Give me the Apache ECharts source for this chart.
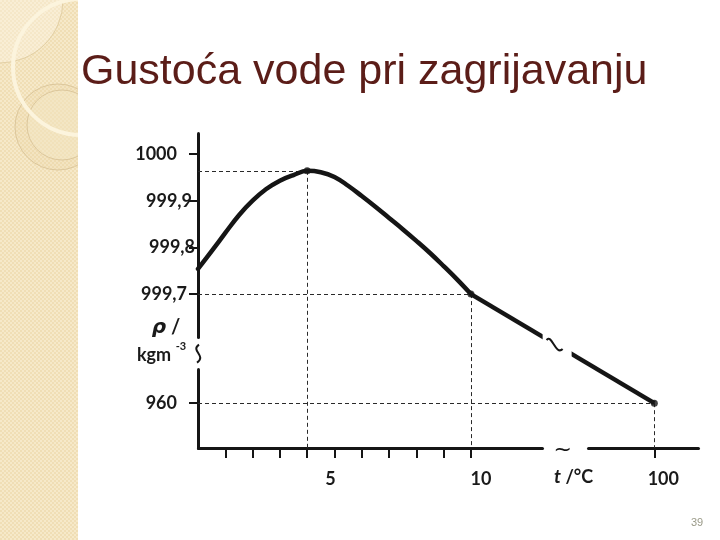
<!DOCTYPE html>
<html><head><meta charset="utf-8">
<script src="https://cdn.jsdelivr.net/npm/echarts@6/dist/echarts.min.js"></script>
<style>html,body{margin:0;padding:0;background:#fff}#c{width:720px;height:540px}</style>
</head><body><div id="c"></div>
<script>
// ---- data ----
const titleText = 'Gustoća vode pri zagrijavanju';
const pageNumber = '39';
const curveT   = [0, 0.5, 1, 1.5, 2, 2.5, 3, 3.5, 4, 4.5, 5, 5.5, 6, 6.5, 7, 7.5, 8, 8.5, 9, 9.5, 10];
const curveRho = [999.754, 999.792, 999.831, 999.869, 999.900, 999.925, 999.943, 999.955, 999.964, 999.961, 999.951,
                  999.932, 999.910, 999.887, 999.863, 999.839, 999.814, 999.788, 999.760, 999.731, 999.700];
const highT    = [10, 100];
const highRho  = [999.700, 960];
const markedT   = [4, 10, 100];
const markedRho = [999.964, 999.700, 960];
const yTickValues  = [960, 999.7, 999.8, 999.9, 1000];
const xTickValues  = [1, 2, 3, 4, 5, 6, 7, 8, 9, 10, 100];
const xLabelValues = [5, 10, 100];
const xNameText = ['t', ' /°C'];
const yNameText = ['ρ', ' /', 'kgm', '-3'];

// axis ranges and breaks
const xMin = 0, xMax = 101.6;
const yMin = 959.904, yMax = 1000.045;
const xBreak = { start: 12.605, end: 97.571, gap: 1.6856 };
const yBreak = { start: 960.0732, end: 999.6081, gap: 0.0685 };

const chart = echarts.init(document.getElementById('c'), null, { renderer: 'canvas' });
const ink = '#151515';
const labelFont = 'Lato';

const curveData = curveT.map((t, i) => [t, curveRho[i]]);
const highData = highT.map((t, i) => [t, highRho[i]]);
const markedData = markedT.map((t, i) => [t, markedRho[i]]);
const guideLines = [];
markedData.forEach(p => {
  guideLines.push([{ coord: [xMin, p[1]] }, { coord: [p[0], p[1]] }]);
  guideLines.push([{ coord: [p[0], p[1]] }, { coord: [p[0], yMin] }]);
});

// label nudges (style only), keyed by tick value
const yLabelPad = { '960': 18, '999.7': 8, '999.8': 0, '999.9': 3, '1000': 18 };
const xLabelPad = { '5': [0, 8, 0, 0], '10': [0, 0, 0, 20], '100': [0, 0, 0, 18] };

function yLabel(v) {
  const key = String(Math.round(v * 10) / 10);
  const s = Math.abs(v - 1000) < 1e-6 ? '1000' : (Math.abs(v - 960) < 1e-6 ? '960' : v.toFixed(1).replace('.', ','));
  const pad = yLabelPad[key] || 0;
  return '{p' + pad + '|' + s + '}';
}
const yRich = {};
Object.values(yLabelPad).forEach(p => { yRich['p' + p] = { padding: [0, p, 0, 0] }; });
function xLabel(v) { return '{x' + v + '|' + v + '}'; }
const xRich = {};
Object.keys(xLabelPad).forEach(k => { xRich['x' + k] = { padding: xLabelPad[k] }; });

chart.setOption({
  animation: false,
  backgroundColor: '#ffffff',
  grid: { left: 198, right: 22, top: 133, bottom: 92, containLabel: false },
  xAxis: {
    type: 'value', min: xMin, max: xMax,
    breaks: [xBreak],
    breakArea: { show: true, expandOnClick: false, itemStyle: { color: 'rgba(0,0,0,0)', borderColor: 'rgba(0,0,0,0)', opacity: 0 } },
    axisLine: { show: true, onZero: false, lineStyle: { color: ink, width: 3 } },
    axisTick: { show: true, customValues: xTickValues, length: 10, lineStyle: { color: ink, width: 2 } },
    axisLabel: { show: true, customValues: xLabelValues, margin: 22, color: '#1a1a1a',
      fontFamily: labelFont, fontWeight: 'bold', fontSize: 18,
      formatter: xLabel, rich: xRich },
    splitLine: { show: false }
  },
  yAxis: {
    type: 'value', min: yMin, max: yMax,
    breaks: [yBreak],
    breakArea: { show: true, expandOnClick: false, itemStyle: { color: 'rgba(0,0,0,0)', borderColor: 'rgba(0,0,0,0)', opacity: 0 } },
    axisLine: { show: true, onZero: false, lineStyle: { color: ink, width: 3 } },
    axisTick: { show: true, customValues: yTickValues, length: 9, lineStyle: { color: ink, width: 2 } },
    axisLabel: { show: true, customValues: yTickValues, margin: 3, color: '#1a1a1a',
      fontFamily: labelFont, fontWeight: 'bold', fontSize: 18,
      formatter: yLabel, rich: yRich },
    splitLine: { show: false }
  },
  series: [
    { type: 'line', data: curveData, smooth: 0.4, symbol: 'none', silent: true,
      lineStyle: { color: ink, width: 4.5, cap: 'round', join: 'round' }, z: 5 },
    { type: 'line', data: highData, symbol: 'none', silent: true,
      lineStyle: { color: ink, width: 4.5 }, z: 5 },
    { type: 'scatter', data: markedData, symbol: 'circle', symbolSize: 7, silent: true,
      itemStyle: { color: ink }, z: 6,
      markLine: { silent: true, symbol: 'none', label: { show: false },
        lineStyle: { color: '#2a2a2a', width: 1, type: [4, 3] }, data: guideLines, z: 3 } }
  ]
});

// ---- decorations and annotations positioned through the chart's scales ----
const px = (x, y) => chart.convertToPixel({ gridIndex: 0 }, [x, y]);
const xBreakMid = (px(highT[0], yMin)[0] + px(highT[1], yMin)[0]) / 2;
const yBreakMid = (px(xMin, yTickValues[0])[1] + px(xMin, yTickValues[1])[1]) / 2;
const axisY = px(xMin, yMin)[1];
const axisX = px(xMin, yMin)[0];
const p10 = px(highT[0], highRho[0]), p100 = px(highT[1], highRho[1]);
const lineMidX = xBreakMid - 6;
const lineMidY = p10[1] + (p100[1] - p10[1]) * (lineMidX - p10[0]) / (p100[0] - p10[0]);
const yb = yBreakMid + 5;
const lx = lineMidX - 2, ly = lineMidY;

// checker texture for the side strip
const pat = document.createElement('canvas');
pat.width = 4; pat.height = 4;
const pc = pat.getContext('2d');
pc.fillStyle = '#f0deb5'; pc.fillRect(0, 0, 4, 4);
pc.fillStyle = '#f6e9c9'; pc.fillRect(0, 0, 2, 2); pc.fillRect(2, 2, 2, 2);

chart.setOption({
  graphic: [
    { type: 'rect', shape: { x: 0, y: 0, width: 78, height: 540 }, style: { fill: { image: pat, repeat: 'repeat' } }, z: 0, silent: true },
    { type: 'circle', shape: { cx: 0, cy: 0, r: 63 }, style: { fill: 'rgba(255,250,235,0.35)', stroke: '#e2cfa4', lineWidth: 1 }, z: 1, silent: true },
    { type: 'circle', shape: { cx: 58, cy: 127, r: 43 }, style: { fill: 'rgba(225,200,150,0.15)', stroke: '#dcc79c', lineWidth: 1 }, z: 1, silent: true },
    { type: 'circle', shape: { cx: 62, cy: 125, r: 35 }, style: { fill: 'rgba(245,232,200,0.45)', stroke: '#dcc79c', lineWidth: 1 }, z: 1, silent: true },
    { type: 'circle', shape: { cx: 81, cy: 67, r: 68 }, style: { fill: 'none', stroke: '#fcf4dd', lineWidth: 4 }, z: 2, silent: true },
    { type: 'rect', shape: { x: 78, y: 0, width: 80, height: 140 }, style: { fill: '#ffffff' }, z: 3, silent: true },
    { type: 'rect', shape: { x: 78, y: 140, width: 50, height: 60 }, style: { fill: '#ffffff' }, z: 3, silent: true },
    { type: 'text', x: 81, y: 72, z: 10, silent: true,
      style: { text: titleText, fill: '#5b1d18', font: '43px "Liberation Sans", Arial, sans-serif', verticalAlign: 'middle', align: 'left',
        shadowColor: 'rgba(0,0,0,0.25)', shadowBlur: 2, shadowOffsetX: 2, shadowOffsetY: 2 } },
    { type: 'text', x: 697, y: 523, z: 10, silent: true,
      style: { text: pageNumber, fill: '#9a9a88', font: '11px "Liberation Sans", Arial, sans-serif', align: 'center', verticalAlign: 'middle' } },
    // axis break marks and the gap in the line
    { type: 'bezierCurve', z: 21, silent: true,
      shape: { x1: axisX + 1, y1: yb - 9, cpx1: axisX - 8, cpy1: yb - 3, cpx2: axisX + 9, cpy2: yb + 2, x2: axisX - 1, y2: yb + 9 },
      style: { stroke: ink, lineWidth: 2, fill: 'none' } },
    { type: 'text', x: xBreakMid, y: axisY + 2, z: 21, silent: true,
      style: { text: '~', fill: ink, font: '22px "DejaVu Sans", sans-serif', align: 'center', verticalAlign: 'middle' } },
    { type: 'rect', shape: { x: lineMidX - 14, y: lineMidY - 13, width: 29, height: 26 }, style: { fill: '#ffffff' }, z: 20, silent: true },
    { type: 'bezierCurve', z: 21, silent: true,
      shape: { x1: lx - 8, y1: ly - 5, cpx1: lx - 3, cpy1: ly - 12, cpx2: lx + 1, cpy2: ly + 11, x2: lx + 8, y2: ly + 4 },
      style: { stroke: ink, lineWidth: 2, fill: 'none' } },
    // axis names
    { type: 'text', x: xBreakMid + 11, y: axisY + 29, z: 21, silent: true,
      style: { text: '{i|' + xNameText[0] + '}{n|' + xNameText[1] + '}', align: 'center', verticalAlign: 'middle',
        rich: { i: { font: 'italic bold 19px Lato, sans-serif', fill: '#1a1a1a' }, n: { font: 'bold 18px Lato, sans-serif', fill: '#1a1a1a' } } } },
    { type: 'text', x: 166, y: yBreakMid - 21, z: 21, silent: true,
      style: { text: '{i|' + yNameText[0] + '}{n|' + yNameText[1] + '}', align: 'center', verticalAlign: 'middle',
        rich: { i: { font: 'italic bold 20px "DejaVu Sans", sans-serif', fill: '#1a1a1a' }, n: { font: 'bold 20px Lato, sans-serif', fill: '#1a1a1a' } } } },
    { type: 'text', x: 154, y: yBreakMid + 7, z: 21, silent: true,
      style: { text: yNameText[2], fill: '#1a1a1a', font: 'bold 18px Lato, sans-serif', align: 'center', verticalAlign: 'middle' } },
    { type: 'text', x: 181, y: yBreakMid - 2, z: 21, silent: true,
      style: { text: yNameText[3], fill: '#1a1a1a', font: 'bold 11px Lato, sans-serif', align: 'center', verticalAlign: 'middle' } }
  ]
});
</script>
</body></html>
